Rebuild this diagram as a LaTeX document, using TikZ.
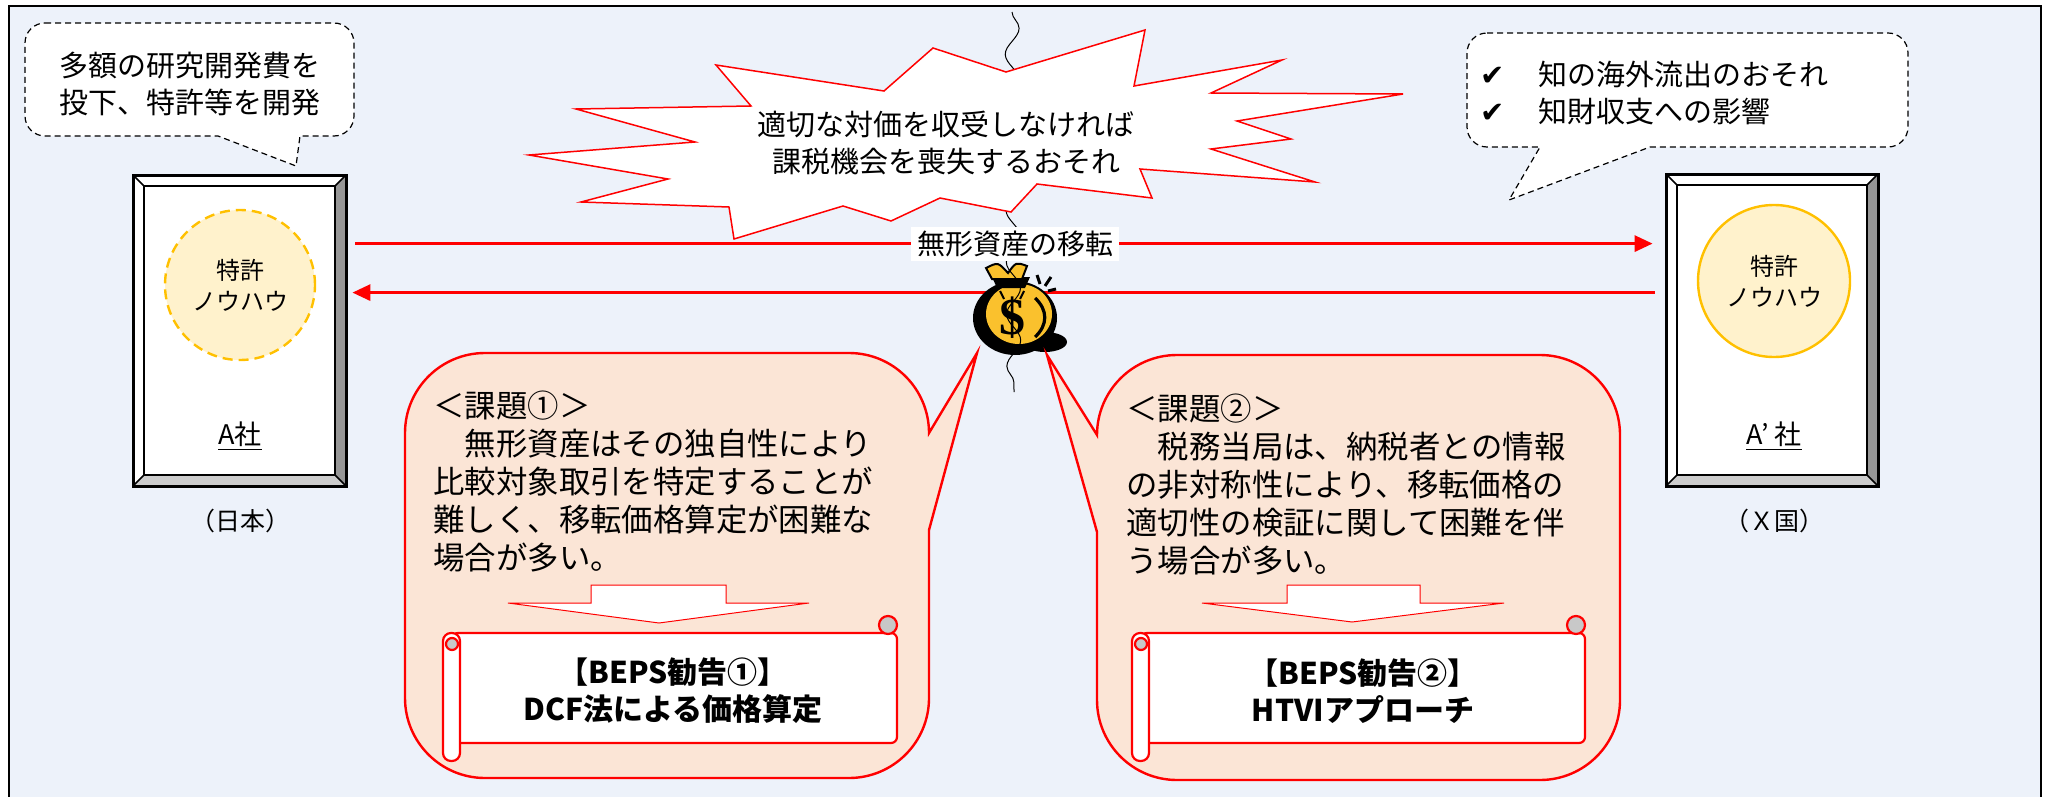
\documentclass[tikz,border=0pt]{standalone}
\usepackage{fontspec}
\setmainfont{Noto Sans CJK JP}
\newfontfamily\symfont{DejaVu Sans}
\newfontfamily\dollarfont{Liberation Serif}
\usetikzlibrary{arrows.meta,calc,decorations.pathmorphing}

\definecolor{bgblue}{RGB}{237,242,250}
\definecolor{peach}{RGB}{251,229,214}
\definecolor{knowfill}{RGB}{255,242,204}
\definecolor{amber}{RGB}{255,192,0}
\definecolor{bevdark}{RGB}{150,150,150}
\definecolor{bevlight}{RGB}{204,204,204}
\definecolor{gold}{RGB}{250,193,45}
\definecolor{scrollgray}{RGB}{200,200,200}

\tikzset{
  bubble/.style={draw=black, fill=white, line width=0.6pt, dash pattern=on 3pt off 2pt},
  bubbletext/.style={font=\fontsize{14.5}{18.5}\selectfont, align=center, inner sep=0pt},
  callout/.style={draw=red, fill=peach, line width=1.2pt},
  bodytext/.style={font=\fontsize{15.7}{19}\selectfont, align=left, inner sep=0pt, anchor=west},
  flow/.style={draw=red, line width=1.5pt, -{Triangle[length=9pt,width=8pt]}},
  downarrow/.style={draw=red, fill=white, line width=0.5pt},
  scrollbody/.style={draw=red, fill=white, line width=1.1pt},
  scrollroll/.style={draw=red, fill=scrollgray, line width=1.1pt},
  rectext/.style={font=\fontsize{15}{18.5}\selectfont\bfseries, align=center, inner sep=0pt},
  knowhow/.style={circle, fill=knowfill, draw=amber, line width=1.2pt, align=center,
    inner sep=0pt, font=\fontsize{12}{15.5}\selectfont},
  nametext/.style={font=\fontsize{13.5}{16}\selectfont, inner sep=1pt},
  regiontext/.style={font=\fontsize{12.5}{15}\selectfont, inner sep=1pt},
  framebox/.style={inner sep=0pt, minimum width=106.5pt, minimum height=155.5pt},
  burst/.style={draw=red, fill=white, line width=0.75pt},
}

\begin{document}
\begin{tikzpicture}[x=0.5pt, y=-0.5pt]
\useasboundingbox (0,0) rectangle (2049,797);

% panel background and frame
\fill[bgblue] (9,6) rectangle (2041,800);
\draw[black, line width=0.75pt] (9,800) -- (9,6) -- (2041,6) -- (2041,800);

% ---- speech bubble, left
\draw[bubble] (45,23) -- (334,23) arc[start angle=-90,end angle=0,radius=20]
  -- (354,116) arc[start angle=0,end angle=90,radius=20]
  -- (300,136) -- (296,166) -- (218,136)
  -- (45,136) arc[start angle=90,end angle=180,radius=20]
  -- (25,43) arc[start angle=180,end angle=270,radius=20] -- cycle;
\node[bubbletext] (noteA) at (190,84) {多額の研究開発費を\\投下、特許等を開発};

% ---- speech bubble, right
\draw[bubble] (1487,33) -- (1888,33) arc[start angle=-90,end angle=0,radius=20]
  -- (1908,127) arc[start angle=0,end angle=90,radius=20]
  -- (1650,147) -- (1509,200) -- (1540,147)
  -- (1487,147) arc[start angle=90,end angle=180,radius=20]
  -- (1467,53) arc[start angle=180,end angle=270,radius=20] -- cycle;
\node[bubbletext, align=left, anchor=west] (noteB) at (1480,93.5)
  {\makebox[29pt][l]{\symfont ✔}知の海外流出のおそれ\\\makebox[29pt][l]{\symfont ✔}知財収支への影響};

% ---- company A (bevelled frame)
\fill[white] (133,175) rectangle (346,486);
\fill[bevdark] (335,186) -- (346,175) -- (346,486) -- (335,475) -- cycle;
\fill[bevlight] (144,475) -- (335,475) -- (346,486) -- (133,486) -- cycle;
\draw[line width=1.5pt] (133,175) rectangle (346,486);
\draw[line width=1.1pt] (144,186) rectangle (335,475);
\draw[line width=0.8pt] (133,175) -- (144,186) (346,175) -- (335,186)
  (133,486) -- (144,475) (346,486) -- (335,475);
\node[framebox] (boxA) at (239.5,330.5) {};
\node[knowhow, minimum size=75pt, dash pattern=on 5pt off 3pt] (ipA) at (240,285) {特許\\ノウハウ};
\node[nametext] (nameA) at (240,436) {\underline{A社}};
\node[regiontext] (regA) at (240,521) {（日本）};

% ---- company A' (bevelled frame)
\fill[white] (1666,174) rectangle (1878,486);
\fill[bevdark] (1867,185) -- (1878,174) -- (1878,486) -- (1867,475) -- cycle;
\fill[bevlight] (1677,475) -- (1867,475) -- (1878,486) -- (1666,486) -- cycle;
\draw[line width=1.5pt] (1666,174) rectangle (1878,486);
\draw[line width=1.1pt] (1677,185) rectangle (1867,475);
\draw[line width=0.8pt] (1666,174) -- (1677,185) (1878,174) -- (1867,185)
  (1666,486) -- (1677,475) (1878,486) -- (1867,475);
\node[framebox, minimum width=106pt, minimum height=156pt] (boxB) at (1772,330) {};
\node[knowhow, minimum size=76pt] (ipB) at (1774,281) {特許\\ノウハウ};
\node[nametext] (nameB) at (1774,436) {\underline{A’\hspace{3pt}社}};
\node[regiontext] (regB) at (1774,521) {（Ｘ国）};

% ---- transfer arrows
\draw[flow] ($(boxA.north east)+(9,69)$) -- ($(boxB.north west)+(-13,70)$);
\draw[flow] ($(boxB.north west)+(-11,119)$) -- ($(boxA.north east)+(6,118)$);

% ---- money bag
\fill[black] (1045,342) ellipse[x radius=22, y radius=10];
\fill[black] (1015,318) ellipse[x radius=42, y radius=37];
\fill[gold] (1019,314) ellipse[x radius=33, y radius=30];
\fill[black] (992,277) -- (1030,277) -- (1025,288) -- (997,288) -- cycle;
\filldraw[fill=gold, draw=black, line width=1pt] (986,268) .. controls (998,262) .. (1008,273)
  .. controls (1016,262) .. (1027,266) -- (1022,279) -- (992,279) -- cycle;
\draw[black, line width=1.5pt] (1040,284) -- (1037,275) (1045,286) -- (1051,277) (1048,291) -- (1056,289);
\draw[black, line width=1pt] (1000,291) -- (1004,299) (1024,291) -- (1020,299);
\draw[black, line width=1.6pt] (1035,298) .. controls (1048,310) and (1048,325) .. (1035,337);
\node[font=\dollarfont\bfseries\fontsize{26}{26}\selectfont, inner sep=0pt] (dollar) at (1012,318) {\$};

% ---- wavy cord
\coordinate (cordtop) at (1012,12);
\coordinate (cordbot) at (1014,392);
\draw[black, line width=0.5pt, decorate, decoration={snake, amplitude=3.5pt, segment length=26pt}]
  (cordtop) -- (cordbot);

% ---- warning burst
\draw[burst] (716,65) -- (884,91) -- (933,48) -- (1006,72) -- (1145,30) -- (1134,86)
  -- (1282,60) -- (1211,93) -- (1403,94) -- (1237,121) -- (1291,139) -- (1211,149)
  -- (1315,182) -- (1140,169) -- (1152,198) -- (1037,184) -- (1011,212) -- (940,198)
  -- (891,221) -- (843,206) -- (734,239) -- (729,207) -- (581,202) -- (668,179)
  -- (529,155) -- (695,142) -- (576,109) -- (751,106) -- cycle;
\node[bubbletext] (warn) at (946,143) {適切な対価を収受しなければ\\課税機会を喪失するおそれ};

% ---- transfer label
\node[fill=white, inner xsep=3pt, inner ysep=2pt, font=\fontsize{14}{14}\selectfont] (xfer) at (1015,244) {無形資産の移転};

% ---- issue 1 callout
\draw[callout] (485,353) -- (849,353) arc[start angle=-90,end angle=0,radius=80]
  -- (977,353) -- (929,530)
  -- (929,698) arc[start angle=0,end angle=90,radius=80]
  -- (485,778) arc[start angle=90,end angle=180,radius=80]
  -- (405,433) arc[start angle=180,end angle=270,radius=80] -- cycle;
\node[bodytext] (issue1) at (433,482)
  {＜課題①＞\\　無形資産はその独自性により\\比較対象取引を特定することが\\難しく、移転価格算定が困難な\\場合が多い。};
\draw[downarrow] (591,585) -- (726,585) -- (726,603) -- (809,603) -- (659,623)
  -- (508,603) -- (591,603) -- cycle;
\draw[scrollbody, rounded corners=3pt] (452,633) rectangle (897,743);
\draw[scrollbody, rounded corners=4pt] (443,633) rectangle (460,761);
\draw[scrollroll] (452,644) circle[radius=6];
\draw[scrollroll] (888,625) circle[radius=9];
\node[rectext] (rec1) at (673,691) {【BEPS勧告①】\\DCF法による価格算定};

% ---- issue 2 callout
\draw[callout] (1177,355) -- (1540,355) arc[start angle=-90,end angle=0,radius=80]
  -- (1620,700) arc[start angle=0,end angle=90,radius=80]
  -- (1177,780) arc[start angle=90,end angle=180,radius=80]
  -- (1097,532) -- (1047,355)
  -- (1097,435) arc[start angle=180,end angle=270,radius=80] -- cycle;
\node[bodytext] (issue2) at (1126,485)
  {＜課題②＞\\　税務当局は、納税者との情報\\の非対称性により、移転価格の\\適切性の検証に関して困難を伴\\う場合が多い。};
\draw[downarrow] (1287,585) -- (1420,585) -- (1420,603) -- (1504,603) -- (1352,622)
  -- (1202,603) -- (1287,603) -- cycle;
\draw[scrollbody, rounded corners=3pt] (1141,633) rectangle (1585,743);
\draw[scrollbody, rounded corners=4pt] (1132,633) rectangle (1149,761);
\draw[scrollroll] (1141,644) circle[radius=6];
\draw[scrollroll] (1576,625) circle[radius=9];
\node[rectext] (rec2) at (1363,691) {【BEPS勧告②】\\HTVIアプローチ};

\end{tikzpicture}
\end{document}
